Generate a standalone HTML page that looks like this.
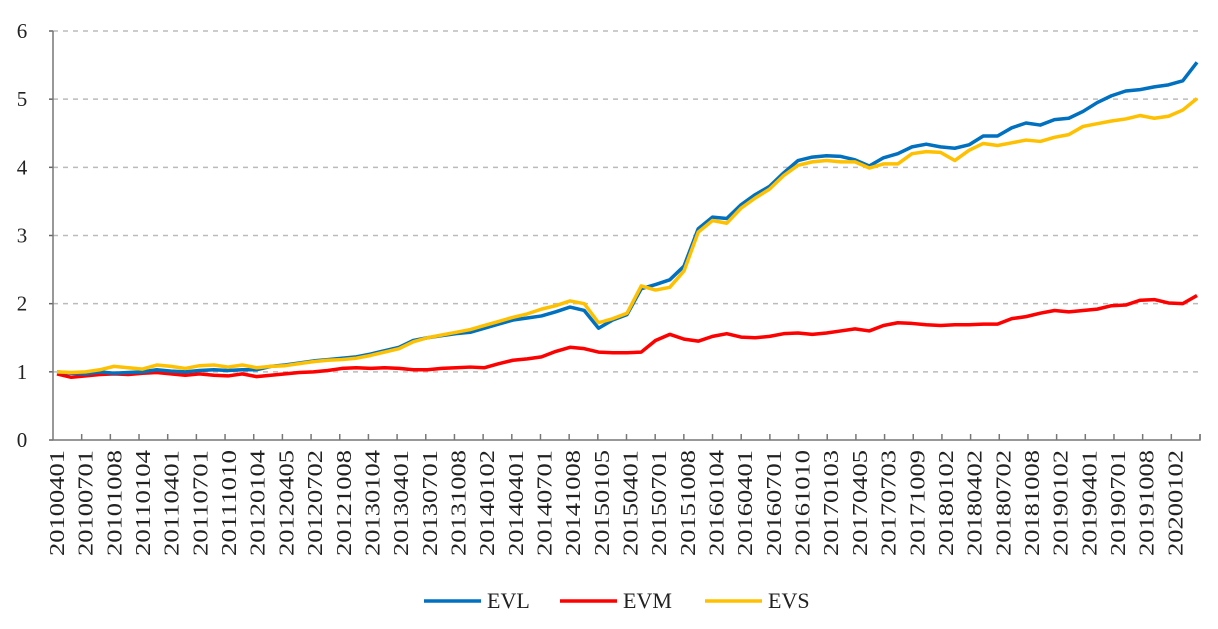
<!DOCTYPE html>
<html><head><meta charset="utf-8"><style>
body{margin:0;background:#fff}
svg text{font-family:"Liberation Serif",serif;fill:#222}
</style></head><body>
<svg id="chart" width="1218" height="624" xmlns="http://www.w3.org/2000/svg"></svg>
<script>
const xLabels=["20100401","20100701","20101008","20110104","20110401","20110701","20111010","20120104","20120405","20120702","20121008","20130104","20130401","20130701","20131008","20140102","20140401","20140701","20141008","20150105","20150401","20150701","20151008","20160104","20160401","20160701","20161010","20170103","20170405","20170703","20171009","20180102","20180402","20180702","20181008","20190102","20190401","20190701","20191008","20200102"];
const yTicks=[0,1,2,3,4,5,6];
const evl=[1.00,0.98,0.97,1.00,0.98,0.99,1.00,1.03,1.01,1.00,1.02,1.03,1.02,1.03,1.03,1.08,1.10,1.13,1.16,1.18,1.20,1.22,1.26,1.31,1.36,1.46,1.50,1.53,1.56,1.58,1.64,1.70,1.76,1.79,1.82,1.88,1.95,1.90,1.64,1.76,1.84,2.22,2.28,2.35,2.55,3.10,3.27,3.25,3.45,3.60,3.72,3.92,4.10,4.15,4.17,4.16,4.11,4.02,4.14,4.20,4.30,4.34,4.30,4.28,4.33,4.46,4.46,4.58,4.65,4.62,4.70,4.72,4.82,4.95,5.05,5.12,5.14,5.18,5.21,5.27,5.54];
const evm=[0.97,0.92,0.94,0.96,0.97,0.96,0.98,0.99,0.97,0.95,0.97,0.95,0.94,0.97,0.93,0.95,0.97,0.99,1.00,1.02,1.05,1.06,1.05,1.06,1.05,1.03,1.03,1.05,1.06,1.07,1.06,1.12,1.17,1.19,1.22,1.30,1.36,1.34,1.29,1.28,1.28,1.29,1.46,1.55,1.48,1.45,1.52,1.56,1.51,1.50,1.52,1.56,1.57,1.55,1.57,1.60,1.63,1.60,1.68,1.72,1.71,1.69,1.68,1.69,1.69,1.70,1.70,1.78,1.81,1.86,1.90,1.88,1.90,1.92,1.97,1.98,2.05,2.06,2.01,2.00,2.12];
const evs=[1.00,0.99,1.00,1.03,1.08,1.06,1.04,1.10,1.08,1.05,1.09,1.10,1.07,1.10,1.06,1.08,1.09,1.12,1.15,1.17,1.18,1.20,1.24,1.29,1.34,1.44,1.50,1.54,1.58,1.62,1.68,1.74,1.80,1.85,1.92,1.97,2.04,2.00,1.72,1.78,1.86,2.26,2.20,2.24,2.48,3.05,3.22,3.18,3.40,3.55,3.68,3.88,4.03,4.08,4.10,4.08,4.08,3.99,4.05,4.05,4.20,4.23,4.22,4.10,4.25,4.35,4.32,4.36,4.40,4.38,4.44,4.48,4.60,4.64,4.68,4.71,4.76,4.72,4.75,4.84,5.01];
const NS="http://www.w3.org/2000/svg";
const svg=document.getElementById('chart');
const X0=53,X1=1200,Y0=440,Y6=31;
const y=v=>Y0-(v/6)*(Y0-Y6);
const xPt=i=>57+i*(1197-57)/(evl.length-1);
const step=(X1-X0)/xLabels.length;
function mk(tag,attrs){const e=document.createElementNS(NS,tag);for(const k in attrs)e.setAttribute(k,attrs[k]);svg.appendChild(e);return e;}
yTicks.forEach(t=>{
  if(t>0){const g=mk('line',{x1:X0,x2:X1,y1:y(t),y2:y(t),stroke:'#bbb','stroke-width':1.5,'stroke-dasharray':'5,5'});
  
  }
  const tk=mk('line',{x1:X0-4,x2:X0,y1:y(t),y2:y(t),stroke:'#666','stroke-width':1.5});
  
  
  const tx=mk('text',{x:22,y:y(t)+7,'font-size':21,'text-anchor':'middle'});tx.textContent=t;
  
  
});
const ax=mk('path',{d:`M${X0},${Y6}V${Y0}H${X1}V${Y0-6}`,fill:'none',stroke:'#777','stroke-width':1.5});


xLabels.forEach((l,i)=>{
  const tx0=X0+step*(i+1);
  const tk=mk('line',{x1:tx0,x2:tx0,y1:Y0,y2:Y0-6,stroke:'#777','stroke-width':1.5});
  
  
  const cx=57+i*step;
  const t=mk('text',{x:0,y:0,'font-size':21,'text-anchor':'end',textLength:106,lengthAdjust:'spacingAndGlyphs',transform:`translate(${cx+7},${450}) rotate(-90)`});
  t.textContent=l;
  
  
});
function line(data,color,name){
  const p=mk('polyline',{points:data.map((v,i)=>xPt(i)+','+y(v)).join(' '),fill:'none',stroke:color,'stroke-width':3.5,'stroke-linejoin':'round'});
  
  
}
line(evm,'#FF0000','evm-line');
line(evl,'#0070C0','evl-line');
line(evs,'#FFC000','evs-line');
[['EVL','#0070C0',424],['EVM','#FF0000',560],['EVS','#FFC000',705]].forEach(([n,c,x0])=>{
  const l=mk('line',{x1:x0,x2:x0+57,y1:601,y2:601,stroke:c,'stroke-width':3.5});
  
  
  const t=mk('text',{x:x0+63,y:608,'font-size':22});t.textContent=n;
  
  
});
</script>
</body></html>
